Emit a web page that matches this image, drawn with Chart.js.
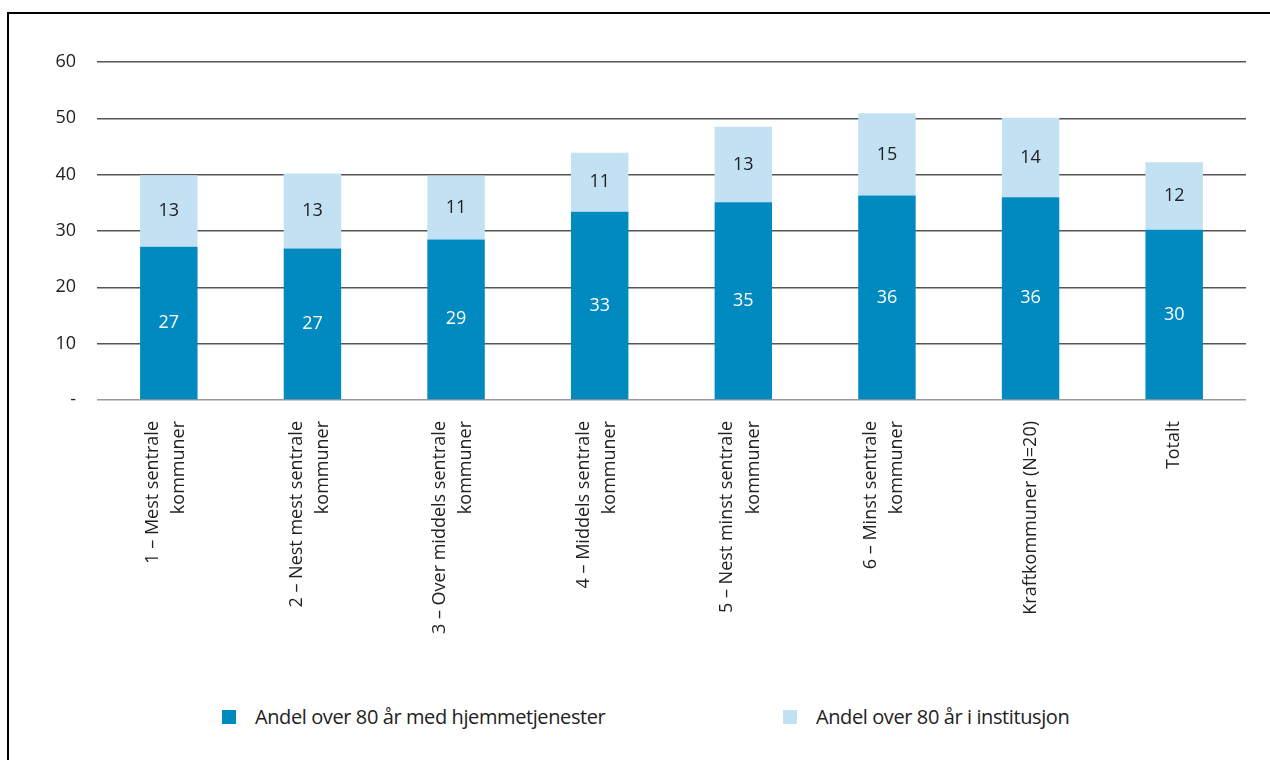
<!DOCTYPE html>
<html>
<head>
<meta charset="utf-8">
<script src="https://cdn.jsdelivr.net/npm/chart.js@4"></script>
<style>
  body { margin: 0; background: #fff; }
  #wrap { position: relative; width: 1270px; height: 760px; overflow: hidden; }
  #frame { position: absolute; left: 7px; top: 12px; right: -10px; bottom: -10px;
           border-left: 2px solid #000; border-top: 2px solid #000; }
  #box { position: absolute; left: 0; top: 0; width: 1270px; height: 680px; }
  .leg { position: absolute; top: 703px; font-family: "Open Sans", sans-serif; font-size: 20px;
         color: #222; letter-spacing: -0.4px; white-space: nowrap; }
  .leg span.sw { position: absolute; top: 7px; width: 14px; height: 14px; }
</style>
</head>
<body>
<div id="wrap">
  <div id="frame"></div>
  <div id="box"><canvas id="myChart"></canvas></div>
  <div class="leg" style="left:222px"><span class="sw" style="left:0;background:#008ac0"></span><span style="margin-left:33px">Andel over 80 år med hjemmetjenester</span></div>
  <div class="leg" style="left:783px"><span class="sw" style="left:0;background:#c2e2f4"></span><span style="margin-left:33px">Andel over 80 år i institusjon</span></div>
</div>
<script>
const categories = [
    ['1 – Mest sentrale', 'kommuner'],
    ['2 – Nest mest sentrale', 'kommuner'],
    ['3 – Over middels sentrale', 'kommuner'],
    ['4 – Middels sentrale', 'kommuner'],
    ['5 – Nest minst sentrale', 'kommuner'],
    ['6 – Minst sentrale', 'kommuner'],
    'Kraftkommuner (N=20)',
    'Totalt'
];
const hjemmetjenester = [27.2, 26.9, 28.5, 33.4, 35.1, 36.3, 36.0, 30.2];
const institusjon = [12.7, 13.3, 11.3, 10.5, 13.4, 14.6, 14.1, 12.0];
const seriesNames = ['Andel over 80 år med hjemmetjenester', 'Andel over 80 år i institusjon'];
const yTicks = [0, 10, 20, 30, 40, 50, 60];

// tall midt i hvert segment
const valueLabels = {
    id: 'valueLabels',
    afterDatasetsDraw(chart) {
        const c = chart.ctx;
        c.save();
        c.font = '18px "Open Sans", sans-serif';
        c.textAlign = 'center';
        c.textBaseline = 'middle';
        chart.data.datasets.forEach(function(ds, i) {
            c.fillStyle = i === 0 ? '#ffffff' : '#222222';
            chart.getDatasetMeta(i).data.forEach(function(bar, j) {
                c.fillText(Math.round(ds.data[j]), bar.x, (bar.y + bar.base) / 2);
            });
        });
        c.restore();
    }
};

// sentrer tolinjers etiketter under stolpen
const centerLabels = {
    id: 'centerLabels',
    beforeDraw(chart) {
        const items = chart.scales.x.getLabelItems();
        items.forEach(function(it) {
            if (Array.isArray(it.label) && !it._moved) {
                it.textOffset -= 16;
                it._moved = true;
            }
        });
    }
};

const ctx = document.getElementById('myChart').getContext('2d');

const myChart = new Chart(ctx, {
    type: 'bar',
    data: {
        labels: categories,
        datasets: [{
            label: seriesNames[0],
            backgroundColor: '#008ac0',
            data: hjemmetjenester
        }, {
            label: seriesNames[1],
            backgroundColor: '#c2e2f4',
            data: institusjon
        }]
    },
    options: {
        responsive: true,
        maintainAspectRatio: false,
        animation: false,
        datasets: {
            bar: { barPercentage: 0.4, categoryPercentage: 1 }
        },
        layout: { padding: { top: 62, right: 24, left: 0, bottom: 0 } },
        scales: {
            x: {
                stacked: true,
                grid: { display: false },
                border: { display: false },
                ticks: {
                    minRotation: 90,
                    maxRotation: 90,
                    padding: 13,
                    color: '#222',
                    font: { family: 'Open Sans', size: 18, lineHeight: 1.45 }
                },
                afterFit(scale) { scale.height = 280; }
            },
            y: {
                stacked: true,
                min: 0,
                max: 60,
                afterBuildTicks(scale) { scale.ticks = yTicks.map(v => ({ value: v })); },
                border: { display: false },
                grid: {
                    drawTicks: false,
                    lineWidth: 1.5,
                    color: c => c.tick && c.tick.value === 0 ? '#999' : '#555'
                },
                ticks: {
                    padding: 21,
                    color: '#222',
                    font: { family: 'Open Sans', size: 18 },
                    callback: v => v === 0 ? '-' : v
                },
                afterFit(scale) { scale.width = 97; }
            }
        },
        plugins: {
            legend: { display: false },
            tooltip: { enabled: false }
        }
    },
    plugins: [valueLabels, centerLabels]
});
</script>
</body>
</html>
